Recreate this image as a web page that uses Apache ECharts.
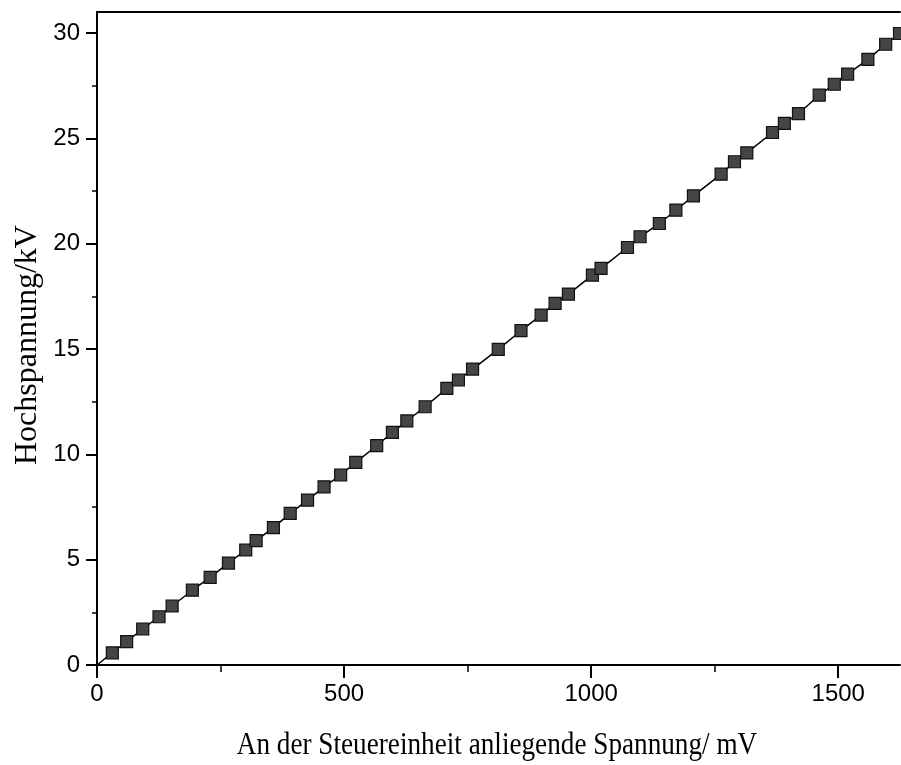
<!DOCTYPE html>
<html>
<head>
<meta charset="utf-8">
<script src="https://cdn.jsdelivr.net/npm/echarts@6/dist/echarts.min.js"></script>
<style>html,body{margin:0;padding:0;background:#fff}#c{width:901px;height:765px}</style>
</head>
<body>
<div id="c"></div>
<script>
// Control voltage (mV) and resulting high voltage (kV)
const xValues = [31, 60, 92.5, 125.5, 152, 193, 229, 266, 301, 322, 357, 391, 426, 459.5, 493, 523.7, 566, 597.8, 627, 664, 708, 731.4, 760, 812, 858, 898.8, 927, 954, 1002.6, 1020, 1073.5, 1099, 1138, 1171.5, 1207, 1263, 1290, 1315, 1367, 1391, 1419.6, 1461.5, 1492, 1519, 1560, 1596, 1624];
const yValues = [0.58, 1.11, 1.71, 2.29, 2.80, 3.55, 4.16, 4.84, 5.46, 5.90, 6.52, 7.20, 7.83, 8.46, 9.02, 9.62, 10.41, 11.04, 11.59, 12.26, 13.13, 13.53, 14.05, 14.98, 15.87, 16.61, 17.17, 17.61, 18.51, 18.83, 19.82, 20.33, 20.96, 21.59, 22.27, 23.30, 23.89, 24.31, 25.28, 25.71, 26.18, 27.05, 27.57, 28.05, 28.75, 29.47, 29.98];
const xTicks = [0, 500, 1000, 1500];
const yTicks = [0, 5, 10, 15, 20, 25, 30];
const xTitle = 'An der Steuereinheit anliegende Spannung/ mV';
const yTitle = 'Hochspannung/kV';

const points = xValues.map((x, i) => [x, yValues[i]]);
const linePoints = [[0, 0]].concat(points);

const chart = echarts.init(document.getElementById('c'), null, {renderer: 'canvas'});
const labelFont = {color: '#000', fontFamily: 'Liberation Sans', fontSize: 24};
chart.setOption({
  animation: false,
  backgroundColor: '#fff',
  grid: {left: 97, right: 1, top: 12, bottom: 100, containLabel: false},
  xAxis: [{
    type: 'value', min: 0, max: 1625, interval: 500, position: 'bottom',
    axisLine: {show: true, onZero: false, lineStyle: {color: '#000', width: 2}},
    axisTick: {show: true, inside: false, length: 13, customValues: xTicks, lineStyle: {color: '#000', width: 2}},
    minorTick: {show: true, splitNumber: 2, length: 7, lineStyle: {color: '#000', width: 1.5}},
    axisLabel: Object.assign({margin: 17, customValues: xTicks,
      formatter: v => String(v)}, labelFont),
    splitLine: {show: false}
  }, {
    type: 'value', min: 0, max: 1625, position: 'top',
    axisLine: {show: true, onZero: false, lineStyle: {color: '#000', width: 2}},
    axisTick: {show: false}, axisLabel: {show: false}, splitLine: {show: false}
  }],
  yAxis: [{
    type: 'value', min: 0, max: 31, interval: 5,
    axisLine: {show: true, onZero: false, lineStyle: {color: '#000', width: 2}},
    axisTick: {show: true, inside: false, length: 11, customValues: yTicks, lineStyle: {color: '#000', width: 2}},
    minorTick: {show: true, splitNumber: 2, length: 5, lineStyle: {color: '#000', width: 1.5}},
    axisLabel: Object.assign({margin: 17, customValues: yTicks,
      formatter: v => String(v)}, labelFont),
    splitLine: {show: false}
  }],
  graphic: [
    {type: 'text', x: 497, y: 746, scaleX: 0.85,
      style: {text: xTitle, fill: '#000', font: '32px "Liberation Serif"', textAlign: 'center', textVerticalAlign: 'middle'}},
    {type: 'text', x: 28, y: 345, rotation: Math.PI / 2, scaleX: 1.0,
      style: {text: yTitle, fill: '#000', font: '32px "Liberation Serif"', textAlign: 'center', textVerticalAlign: 'middle'}}
  ],
  series: [{
    type: 'line', data: linePoints, symbol: 'none', clip: true,
    lineStyle: {color: '#000', width: 1.5}, z: 2
  }, {
    type: 'scatter', data: points, symbol: 'rect', symbolSize: 12, clip: false,
    itemStyle: {color: '#454545', borderColor: '#111', borderWidth: 1.2, opacity: 1}, z: 3
  }]
});
</script>
</body>
</html>
